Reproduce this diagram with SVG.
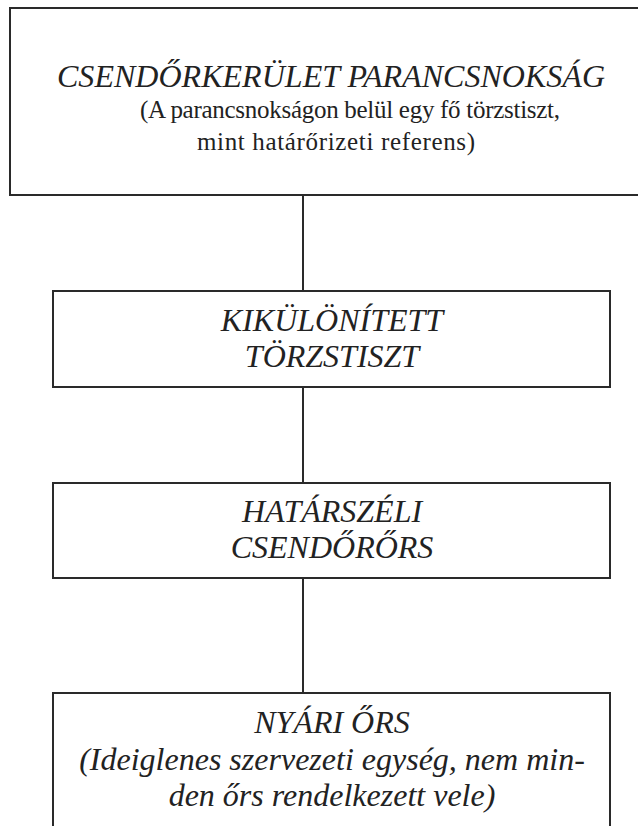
<svg xmlns="http://www.w3.org/2000/svg" width="638" height="826" viewBox="0 0 638 826">
<style>
.box{fill:#fff;stroke:#2a2a2a;stroke-width:2}
.con{stroke:#2a2a2a;stroke-width:2;fill:none}
.t{fill:#222;text-anchor:middle}
.i{font-style:italic;font-size:32px}
.r{font-size:25px}
</style>
<rect width="638" height="826" fill="#fff"/>
<g id="connectors">
<line class="con" x1="303" y1="195" x2="303" y2="291"/>
<line class="con" x1="303" y1="387" x2="303" y2="483"/>
<line class="con" x1="303" y1="578" x2="303" y2="693"/>
</g>
<g font-family="Liberation Serif, DejaVu Serif, serif">
<g id="node-parancsnoksag">
<rect class="box" x="10" y="8" width="650" height="187"/>
<text class="t i" x="331" y="87" textLength="548">CSENDŐRKERÜLET PARANCSNOKSÁG</text>
<text class="t r" x="350" y="118" textLength="420">(A parancsnokságon belül egy fő törzstiszt,</text>
<text class="t r" x="336" y="150" textLength="278">mint határőrizeti referens)</text>
</g>
<g id="node-torzstiszt">
<rect class="box" x="53" y="291" width="557" height="96"/>
<text class="t i" x="332" y="331">KIKÜLÖNÍTETT</text>
<text class="t i" x="332" y="367">TÖRZSTISZT</text>
</g>
<g id="node-csendororrs">
<rect class="box" x="53" y="483" width="557" height="95"/>
<text class="t i" x="332" y="522">HATÁRSZÉLI</text>
<text class="t i" x="332" y="558">CSENDŐRŐRS</text>
</g>
<g id="node-nyari">
<rect class="box" x="53" y="693" width="557" height="150"/>
<text class="t i" x="332" y="733">NYÁRI ŐRS</text>
<text class="t i" x="332" y="770">(Ideiglenes szervezeti egység, nem min-</text>
<text class="t i" x="332" y="806">den őrs rendelkezett vele)</text>
</g>
</g>
</svg>
